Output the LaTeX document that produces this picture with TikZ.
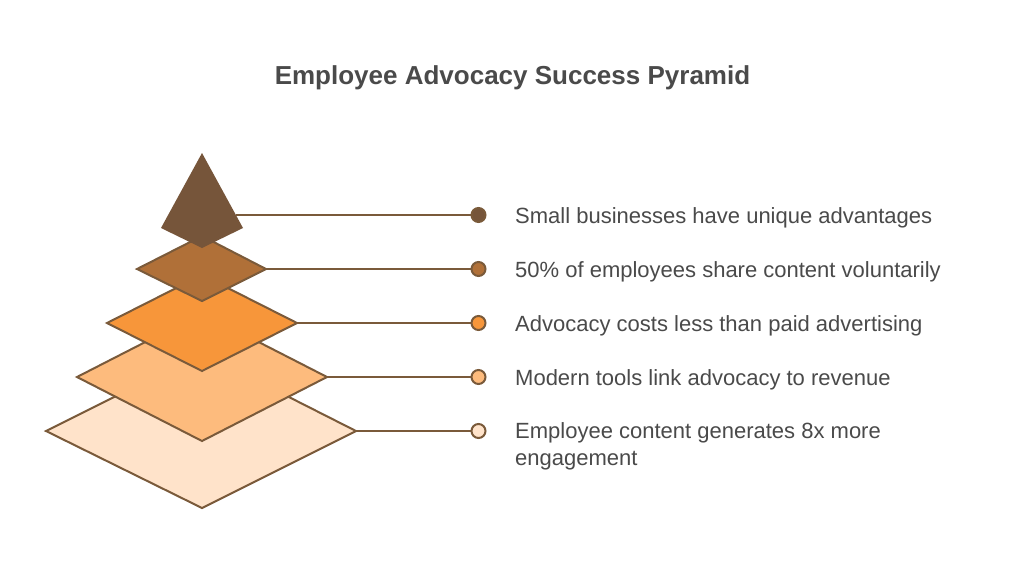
\documentclass[tikz,border=0pt]{standalone}
\usepackage{fontspec}
\setmainfont{Liberation Sans}
\definecolor{edgebrown}{HTML}{7A5A3A}
\definecolor{txt}{HTML}{4A4A4A}
\definecolor{cA}{HTML}{76553A}
\definecolor{cB}{HTML}{B07038}
\definecolor{cC}{HTML}{F7963A}
\definecolor{cD}{HTML}{FDBB7D}
\definecolor{cE}{HTML}{FFE3CA}
\tikzset{
  layer/.style={draw=edgebrown, line width=2pt, line join=miter},
  link/.style={draw=edgebrown, line width=2pt},
  dot/.style={circle, draw=edgebrown, line width=2pt, minimum size=14pt, inner sep=0pt},
  label/.style={text=txt, font=\fontsize{22}{27}\selectfont, inner sep=0pt, align=left},
}
\begin{document}
\begin{tikzpicture}[x=1pt,y=-1pt]
\useasboundingbox (0,0) rectangle (1024,579);
\fill[white] (0,0) rectangle (1024,579);
% title
\node[text=txt, font=\fontsize{26}{30}\selectfont\bfseries, anchor=base, inner sep=0pt] (title) at (512.5,84) {Employee Advocacy Success Pyramid};
% layers (bottom first)
\draw[layer, fill=cE] (46,431) coordinate (l5w) -- (202,353) -- (356,431) coordinate (l5e) -- (202,508) -- cycle;
\draw[layer, fill=cD] (77,377) coordinate (l4w) -- (202,313) -- (327,377) coordinate (l4e) -- (202,441) -- cycle;
\draw[layer, fill=cC] (107,323) coordinate (l3w) -- (202,275) -- (297,323) coordinate (l3e) -- (202,371) -- cycle;
\draw[layer, fill=cB] (137,269) coordinate (l2w) -- (202,236) -- (266,269) coordinate (l2e) -- (202,301) -- cycle;
\fill[cA] (202,153) -- (243,228) -- (202,248) -- (161,228) -- cycle;
\coordinate (l1e) at (236,215);
% dots
\node[dot, fill=cA] (d1) at (478.5,215) {};
\node[dot, fill=cB] (d2) at (478.5,269) {};
\node[dot, fill=cC] (d3) at (478.5,323) {};
\node[dot, fill=cD] (d4) at (478.5,377) {};
\node[dot, fill=cE] (d5) at (478.5,431) {};
% connectors
\draw[link] (l1e) -- (d1);
\draw[link] (l2e) -- (d2);
\draw[link] (l3e) -- (d3);
\draw[link] (l4e) -- (d4);
\draw[link] (l5e) -- (d5);
% labels
\node[label, anchor=base west] (t1) at (515,223) {Small businesses have unique advantages};
\node[label, anchor=base west] (t2) at (515,277) {50\% of employees share content voluntarily};
\node[label, anchor=base west] (t3) at (515,331) {Advocacy costs less than paid advertising};
\node[label, anchor=base west] (t4) at (515,385) {Modern tools link advocacy to revenue};
\node[label, anchor=west] (t5) at (515,446) {Employee content generates 8x more\\engagement};
\end{tikzpicture}
\end{document}
